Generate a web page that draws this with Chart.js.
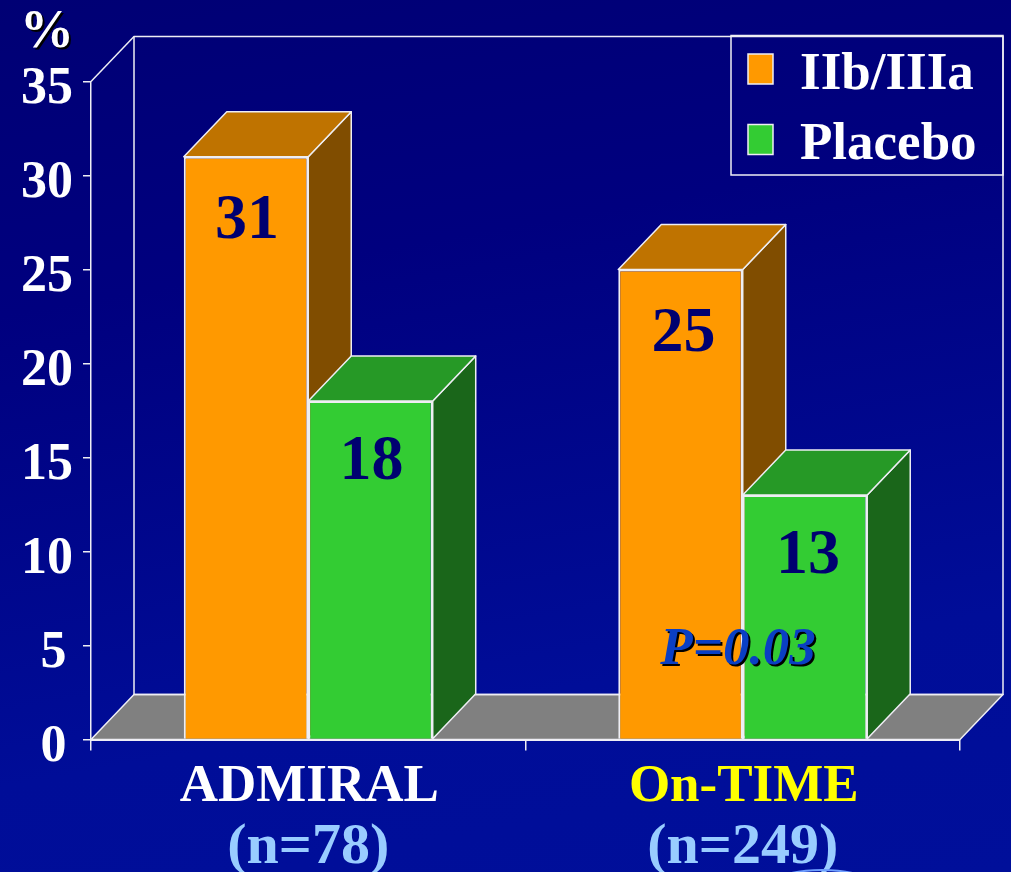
<!DOCTYPE html>
<html>
<head>
<meta charset="utf-8">
<style>
  html, body { margin: 0; padding: 0; background: #000080; }
  #grafico { display: block; background: linear-gradient(170deg, #000074 0%, #00007f 30%, #000d98 75%, #000f9a 100%); }
</style>
<script src="https://cdn.jsdelivr.net/npm/chart.js@4"></script>
</head>
<body>
<canvas id="grafico" width="1011" height="872"></canvas>
<script>
const trials = ['ADMIRAL', 'On-TIME']
const trialSizes = ['(n=78)', '(n=249)']
const trialColors = ['#ffffff', '#ffff00']
const iib = [31, 25]
const placebo = [18, 13]
const yMax = 35
const yStep = 5
const pValue = 'P=0.03'

const FONT = '"Liberation Serif", "Times New Roman", serif'
const LINE = '#eeeef4'
const DEPTH_X = 43
const DEPTH_Y = 45

const faces = [
    { front: '#ff9900', top: '#bf7300', side: '#804d00', labelDrop: 81 },
    { front: '#33cc33', top: '#269926', side: '#1a661a', labelDrop: 78 }
]

function poly(ctx, pts, fill) {
    ctx.beginPath()
    pts.forEach((p, i) => i ? ctx.lineTo(p[0], p[1]) : ctx.moveTo(p[0], p[1]))
    ctx.closePath()
    if (fill) {
        ctx.fillStyle = fill
        ctx.fill()
    }
    ctx.stroke()
}

function shadowText(ctx, text, x, y, color, offset) {
    ctx.fillStyle = '#000000'
    ctx.fillText(text, x + offset, y + offset)
    ctx.fillStyle = color
    ctx.fillText(text, x, y)
}

// back wall, floor and the extruded faces of the bars
const box3d = {
    id: 'box3d',
    beforeDatasetsDraw(chart) {
        const { ctx, chartArea: a } = chart
        ctx.save()
        ctx.strokeStyle = LINE
        ctx.lineWidth = 1.5
        ctx.lineJoin = 'round'

        poly(ctx, [[a.left, a.bottom], [a.left + DEPTH_X, a.bottom - DEPTH_Y], [a.right + DEPTH_X, a.bottom - DEPTH_Y], [a.right, a.bottom]], '#808080')
        ctx.strokeRect(a.left + DEPTH_X, a.top - DEPTH_Y, a.right - a.left, a.bottom - a.top)
        ctx.beginPath()
        ctx.moveTo(a.left, a.top)
        ctx.lineTo(a.left + DEPTH_X, a.top - DEPTH_Y)
        ctx.stroke()

        chart.data.datasets.forEach((ds, d) => {
            chart.getDatasetMeta(d).data.forEach(bar => {
                const l = bar.x - bar.width / 2
                const r = bar.x + bar.width / 2
                const t = bar.y
                const b = bar.base
                poly(ctx, [[r, t], [r + DEPTH_X, t - DEPTH_Y], [r + DEPTH_X, b - DEPTH_Y], [r, b]], faces[d].side)
                poly(ctx, [[l, t], [l + DEPTH_X, t - DEPTH_Y], [r + DEPTH_X, t - DEPTH_Y], [r, t]], faces[d].top)
            })
        })
        ctx.restore()
    },
    afterDatasetsDraw(chart) {
        const { ctx } = chart
        ctx.save()
        ctx.textBaseline = 'alphabetic'
        ctx.textAlign = 'center'

        // value labels on the bar fronts
        ctx.font = `bold 64px ${FONT}`
        ctx.fillStyle = '#000070'
        chart.data.datasets.forEach((ds, d) => {
            chart.getDatasetMeta(d).data.forEach((bar, i) => {
                const shift = i === 1 ? 3 : 1
                ctx.fillText(String(ds.data[i]), bar.x + shift, bar.y + faces[d].labelDrop)
            })
        })

        ctx.font = `italic bold 53px ${FONT}`
        shadowText(ctx, pValue, 738, 664, '#0a3fc4', 2)

        ctx.font = `bold 54px ${FONT}`
        shadowText(ctx, '%', 47, 47, '#ffffff', 2)

        // legend
        ctx.strokeStyle = LINE
        ctx.lineWidth = 1.5
        ctx.strokeRect(731, 35.5, 272, 139.5)
        ctx.textAlign = 'left'
        ctx.font = `bold 53px ${FONT}`
        chart.data.datasets.forEach((ds, d) => {
            const top = 54 + d * 70.5
            ctx.fillStyle = ds.backgroundColor
            ctx.fillRect(748, top, 25, 30)
            ctx.strokeRect(748, top, 25, 30)
            ctx.fillStyle = '#ffffff'
            ctx.fillText(ds.label, 800, 89 + d * 70)
        })

        // start of the oval around the n of the second trial
        ctx.strokeStyle = '#6f9fff'
        ctx.lineWidth = 2
        ctx.beginPath()
        ctx.ellipse(822, 892, 60, 22, 0, 0, Math.PI * 2)
        ctx.stroke()
        ctx.restore()
    }
}

new Chart(document.getElementById('grafico'), {
    type: 'bar',
    data: {
        labels: trials,
        datasets: [
            { label: 'IIb/IIIa', data: iib, backgroundColor: faces[0].front, borderColor: LINE, borderWidth: 2 },
            { label: 'Placebo', data: placebo, backgroundColor: faces[1].front, borderColor: LINE, borderWidth: 2 }
        ]
    },
    options: {
        responsive: false,
        animation: false,
        layout: { padding: { top: 81.5, right: 51, bottom: 0, left: 0 } },
        datasets: { bar: { barPercentage: 1, categoryPercentage: 0.573 } },
        plugins: { legend: { display: false }, tooltip: { enabled: false } },
        scales: {
            x: {
                type: 'category',
                offset: true,
                afterFit: s => { s.height = 66 },
                border: { color: LINE, width: 2 },
                grid: { offset: true, drawOnChartArea: false, color: LINE, tickLength: 11, lineWidth: 1.5 },
                ticks: {
                    maxRotation: 0,
                    autoSkip: false,
                    padding: 5,
                    labelOffset: 1,
                    font: { family: FONT, size: 53, weight: 'bold' },
                    color: ctx => trialColors[ctx.index]
                }
            },
            x2: {
                type: 'category',
                position: 'bottom',
                labels: trialSizes,
                offset: true,
                afterFit: s => { s.height = 66.5 },
                border: { display: false },
                grid: { display: false },
                ticks: {
                    maxRotation: 0,
                    autoSkip: false,
                    padding: 0,
                    font: { family: FONT, size: 58, weight: 'bold' },
                    color: '#99ccff'
                }
            },
            y: {
                min: 0,
                max: yMax,
                afterFit: s => { s.width = 91 },
                border: { color: LINE, width: 1.5 },
                grid: { drawOnChartArea: false, color: LINE, tickLength: 8, lineWidth: 1.5 },
                ticks: {
                    stepSize: yStep,
                    padding: 10,
                    labelOffset: 8,
                    crossAlign: 'center',
                    // single digits sit a little right of the two-digit column
                    callback: v => v < 10 ? ` ${v}` : String(v),
                    font: { family: FONT, size: 52, weight: 'bold' },
                    color: '#ffffff'
                }
            }
        }
    },
    plugins: [box3d]
})
</script>
</body>
</html>
